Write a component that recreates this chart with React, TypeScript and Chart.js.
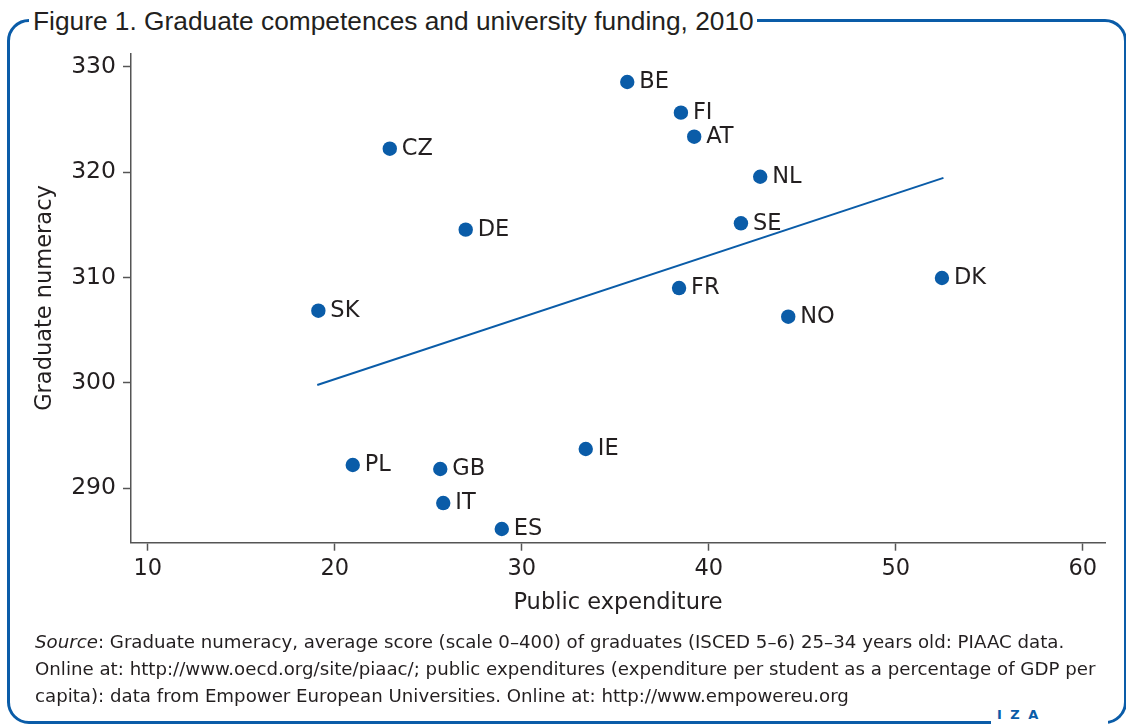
import React, { useEffect, useRef } from "react";
import { Chart, registerables } from "chart.js";

Chart.register(...registerables);

// ---- data ----
const countries = ["BE", "FI", "AT", "CZ", "NL", "DE", "SE", "FR", "SK", "NO", "DK", "PL", "GB", "IE", "IT", "ES"];
const expenditure = [35.64, 38.51, 39.22, 22.94, 42.75, 27.0, 41.72, 38.41, 19.12, 44.25, 52.47, 20.96, 25.64, 33.42, 25.8, 28.93];
const numeracy = [328.55, 325.64, 323.36, 322.22, 319.56, 314.54, 315.14, 309.0, 306.85, 306.28, 309.95, 292.21, 291.83, 293.73, 288.6, 286.14];
const trendExpenditure = [19.06, 52.55];
const trendNumeracy = [299.8, 319.45];
const xTicks = [10, 20, 30, 40, 50, 60];
const yTicks = [290, 300, 310, 320, 330];

const titleText = "Figure 1. Graduate competences and university funding, 2010";
const xTitle = "Public expenditure";
const yTitle = "Graduate numeracy";
const sourceLines = [
  ": Graduate numeracy, average score (scale 0–400) of graduates (ISCED 5–6) 25–34 years old: PIAAC data.",
  "Online at: http://www.oecd.org/site/piaac/; public expenditures (expenditure per student as a percentage of GDP per",
  "capita): data from Empower European Universities. Online at: http://www.empowereu.org",
];

const BLUE = "#0a5ca8";
const TEXT = "#231f20";
const AXIS = "#555555";
const FONT = "'DejaVu Sans', sans-serif";

export default function App() {
  const ref = useRef<HTMLCanvasElement>(null);

  useEffect(() => {
    const canvas = ref.current;
    if (!canvas) return;

    const pointLabels = {
      id: "pointLabels",
      afterDatasetsDraw(chart: any) {
        const meta = chart.getDatasetMeta(0);
        const ctx = chart.ctx;
        ctx.save();
        ctx.font = "22.5px " + FONT;
        ctx.fillStyle = TEXT;
        ctx.textBaseline = "middle";
        ctx.textAlign = "left";
        meta.data.forEach((el: any, i: number) => {
          ctx.fillText(countries[i], el.x + 12, el.y + 0.5);
        });
        ctx.restore();
      },
    };

    const chart = new Chart(canvas, {
      type: "scatter",
      data: {
        datasets: [
          {
            data: expenditure.map((x, i) => ({ x, y: numeracy[i] })),
            backgroundColor: BLUE,
            borderWidth: 0,
            pointRadius: 7.2,
            order: 0,
          },
          {
            data: trendExpenditure.map((x, i) => ({ x, y: trendNumeracy[i] })),
            showLine: true,
            borderColor: BLUE,
            borderWidth: 2,
            pointRadius: 0,
            fill: false,
            order: 1,
          },
        ],
      },
      options: {
        responsive: false,
        animation: false,
        devicePixelRatio: 1,
        layout: { padding: { left: 0, top: 53.3, right: 21, bottom: 103.3 } },
        plugins: {
          legend: { display: false },
          tooltip: { enabled: false },
          title: { display: false },
        },
        scales: {
          x: {
            type: "linear",
            min: 9.1,
            max: 61.19,
            afterBuildTicks: (s: any) => {
              s.ticks = xTicks.map((v) => ({ value: v }));
            },
            afterFit: (s: any) => {
              s.height = 80;
            },
            grid: { display: true, drawOnChartArea: false, drawTicks: true, tickLength: 8, color: AXIS, tickWidth: 1.5 },
            border: { display: true, color: AXIS, width: 1.5 },
            ticks: { font: { family: FONT, size: 22.5 }, color: TEXT, padding: 5, maxRotation: 0, autoSkip: false },
            title: { display: true, text: xTitle, font: { family: FONT, size: 22.5 }, color: TEXT, padding: { top: 0, bottom: 6 } },
          },
          y: {
            type: "linear",
            min: 284.84,
            max: 331.27,
            afterBuildTicks: (s: any) => {
              s.ticks = yTicks.map((v) => ({ value: v }));
            },
            afterFit: (s: any) => {
              s.width = 131;
            },
            grid: { display: true, drawOnChartArea: false, drawTicks: true, tickLength: 8, color: AXIS, tickWidth: 1.5 },
            border: { display: true, color: AXIS, width: 1.5 },
            ticks: { font: { family: FONT, size: 23.5 }, color: TEXT, padding: 7, autoSkip: false },
            title: { display: true, text: yTitle, font: { family: FONT, size: 22.5 }, color: TEXT, padding: { top: 32, bottom: 0 } },
          },
        },
      },
      plugins: [pointLabels],
    } as any);

    return () => chart.destroy();
  }, []);

  return (
    <div
      style={{
        position: "fixed",
        left: 0,
        top: 0,
        width: 1126,
        height: 726,
        overflow: "hidden",
        background: "#fff",
      }}
    >
      <div
        style={{
          position: "absolute",
          left: 7,
          top: 19,
          width: 1120,
          height: 705,
          border: `3px solid ${BLUE}`,
          borderRadius: 22,
          boxSizing: "border-box",
        }}
      />
      <div
        style={{
          position: "absolute",
          left: 29,
          top: 6,
          background: "#fff",
          padding: "0 3px 0 4px",
          font: "26.3px 'Liberation Sans', Arial, sans-serif",
          lineHeight: "30px",
          color: TEXT,
          whiteSpace: "nowrap",
        }}
      >
        {titleText}
      </div>
      <canvas
        ref={ref}
        width={1126}
        height={726}
        style={{ position: "absolute", left: 0, top: 0, width: 1126, height: 726 }}
      />
      <div
        style={{
          position: "absolute",
          left: 35,
          top: 628,
          font: "18.2px " + FONT,
          lineHeight: "27px",
          color: TEXT,
          whiteSpace: "nowrap",
        }}
      >
        <div>
          <i>Source</i>
          {sourceLines[0]}
        </div>
        <div>{sourceLines[1]}</div>
        <div>{sourceLines[2]}</div>
      </div>
      <div
        style={{
          position: "absolute",
          left: 991,
          top: 705,
          width: 117,
          height: 21,
          background: "#fff",
        }}
      >
        <span
          style={{
            position: "absolute",
            left: 6,
            top: 2,
            font: "bold 13px " + FONT,
            letterSpacing: 2,
            color: BLUE,
            whiteSpace: "nowrap",
          }}
        >
          I Z A
        </span>
      </div>
    </div>
  );
}
